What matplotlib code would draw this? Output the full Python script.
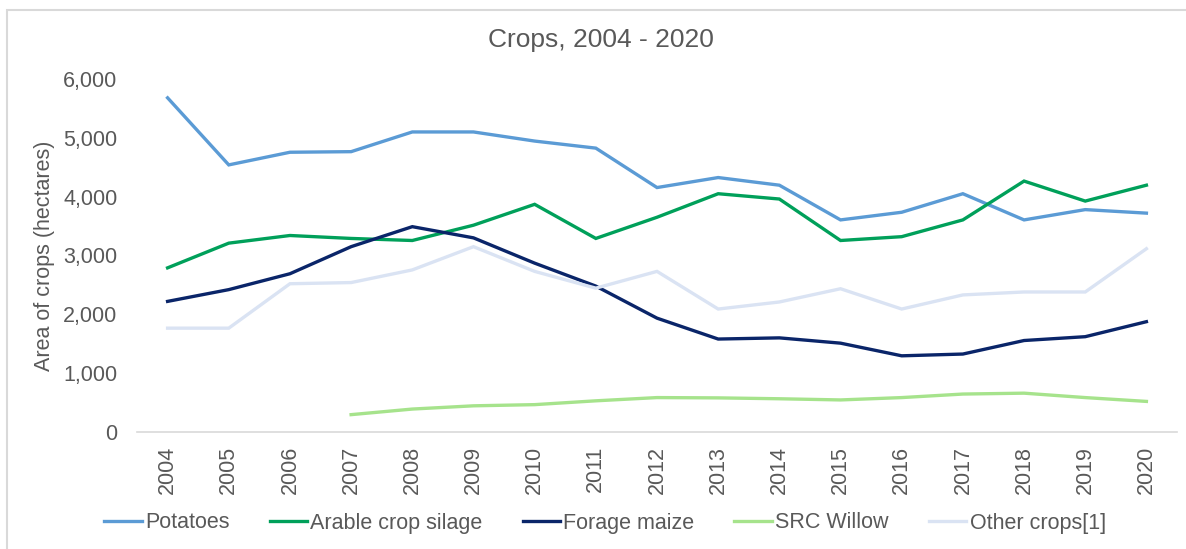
import numpy as np
import matplotlib.pyplot as plt
from matplotlib.patches import Rectangle

plt.rcParams['font.family'] = ['Liberation Sans', 'DejaVu Sans']

years = [str(y) for y in range(2004, 2021)]

potatoes = [5680, 4540, 4755, 4765, 5100, 5100, 4945, 4825, 4155, 4325, 4195,
            3605, 3735, 4050, 3605, 3780, 3720]
arable_silage = [2790, 3210, 3340, 3290, 3255, 3515, 3870, 3290, 3650, 4050, 3960,
                 3255, 3320, 3605, 4265, 3925, 4195]
forage_maize = [2220, 2420, 2690, 3150, 3490, 3300, 2870, 2480, 1935, 1580, 1600,
                1510, 1295, 1325, 1555, 1620, 1875]
src_willow = [np.nan, np.nan, np.nan, 295, 390, 445, 465, 530, 585, 580, 565,
              545, 585, 645, 660, 585, 520]
other_crops = [1765, 1765, 2520, 2540, 2755, 3150, 2730, 2445, 2730, 2090, 2210,
               2435, 2090, 2330, 2380, 2380, 3115]

series = [
    ("Potatoes", potatoes, "#5B9BD5"),
    ("Arable crop silage", arable_silage, "#00A05A"),
    ("Forage maize", forage_maize, "#0A2569"),
    ("SRC Willow", src_willow, "#A6E38C"),
    ("Other crops[1]", other_crops, "#DAE3F3"),
]

grey = "#595959"

fig = plt.figure(figsize=(11.86, 5.49), dpi=100)
ax = fig.add_axes([137/1186, 1 - 432/549, 1040/1186, 353/549])

x = np.arange(len(years))
for name, vals, col in series:
    ax.plot(x, vals, color=col, lw=2.4, label=name, solid_joinstyle='miter')

ax.set_xlim(-0.5, len(years) - 0.5)
ax.set_ylim(0, 6000)
ax.set_yticks(range(0, 7000, 1000))
ax.set_yticklabels([f"{v:,}" for v in range(0, 7000, 1000)])
ax.set_xticks(x)
ax.set_xticklabels(years, rotation=90)

for s in ["top", "right", "left"]:
    ax.spines[s].set_visible(False)
ax.spines["bottom"].set_color("#D9D9D9")
ax.spines["bottom"].set_linewidth(1.2)

ax.tick_params(axis="y", length=0, pad=14, labelsize=15.5, labelcolor=grey)
ax.tick_params(axis="x", length=0, pad=10, labelsize=15.5, labelcolor=grey)

ax.set_ylabel("Area of crops (hectares)", fontsize=15.5, color=grey)
ax.yaxis.label.set_va("center")
ax.yaxis.set_label_coords(-0.0894, 0.5)

fig.text(601/1186, 1 - 40/549, "Crops, 2004 - 2020", ha="center", va="center",
         fontsize=19, color=grey)

fig.legend(loc="center", bbox_to_anchor=(605/1186, 1 - 523/549), ncol=5,
           frameon=False, fontsize=15.5, labelcolor=grey, handlelength=1.75,
           handletextpad=0.15, columnspacing=1.85)

# light grey chart border (right and bottom edges are cut off in the original)
fig.patches.append(Rectangle((7/1186, -0.05), 1.1, 1 - 10/549 + 0.05,
                             transform=fig.transFigure, fill=False,
                             edgecolor="#D9D9D9", lw=1.5))

fig.savefig("out.png", dpi=100)
